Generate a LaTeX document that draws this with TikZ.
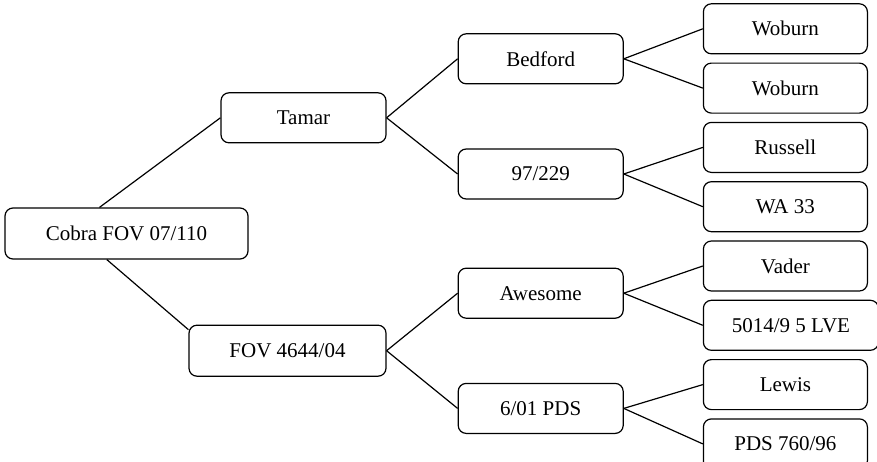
\documentclass[tikz,border=0pt]{standalone}
\usepackage{fontspec}
\setmainfont{Liberation Serif}
\usetikzlibrary{positioning}

\begin{document}
\begin{tikzpicture}[box/.style={draw,rounded corners=4pt,minimum width=82.5pt,minimum height=25pt,inner sep=0pt,font=\fontsize{10.5pt}{12pt}\selectfont},
                    leaf/.style={box,minimum width=82pt},line width=0.6pt]
      \useasboundingbox (-63.25pt,-113.75pt) rectangle (375.25pt,116.75pt);
      \node[box,minimum width=121.5pt,minimum height=25.5pt](Cobra)  {Cobra FOV 07/110};
      \node[box,above=32pt of Cobra,xshift=88.5pt](Tamar)  {Tamar};
      \node[box,below=32.5pt of Cobra,xshift=80.5pt,minimum width=98.5pt,minimum height=25.5pt](FOV)  {FOV 4644/04};

      \node[box,right=35.5pt of Tamar,yshift=29.5pt](Bedford)  {Bedford};
      \node[box,below=32pt of Bedford](Nine)  {97/229};
      \node[box,below=34pt of Nine](Awesome)  {Awesome};
      \node[box,below=32pt of Awesome](PDS)  {6/01 PDS};

      \node[leaf,right=39.5pt of Bedford,yshift=15pt](WoburnA)  {Woburn};
      \node[leaf,below=4.05pt of WoburnA.south west,anchor=north west](WoburnB)  {Woburn};
      \node[leaf,below=4.05pt of WoburnB.south west,anchor=north west](Russell)  {Russell};
      \node[leaf,below=4.05pt of Russell.south west,anchor=north west](WA)  {WA 33};
      \node[leaf,below=4.05pt of WA.south west,anchor=north west](Vader)  {Vader};
      \node[leaf,below=4.05pt of Vader.south west,anchor=north west,minimum width=87.5pt](LVE)  {5014/9 5 LVE};
      \node[leaf,below=4.05pt of LVE.south west,anchor=north west](Lewis)  {Lewis};
      \node[leaf,below=4.05pt of Lewis.south west,anchor=north west](PDSb)  {PDS 760/96};

      \path (Cobra.136)    edge (Tamar.west)
            (Cobra.233)    edge (FOV.168)
            (Tamar.east)   edge (Bedford.west)
            (Tamar.east)   edge (Nine.west)
            (FOV.east)     edge (Awesome.west)
            (FOV.east)     edge (PDS.west)
            (Bedford.east) edge (WoburnA.west)
            (Bedford.east) edge (WoburnB.west)
            (Nine.east)    edge (Russell.west)
            (Nine.east)    edge (WA.west)
            (Awesome.east) edge (Vader.west)
            (Awesome.east) edge (LVE.west)
            (PDS.east)     edge (Lewis.west)
            (PDS.east)     edge (PDSb.west);
\end{tikzpicture}
\end{document}
